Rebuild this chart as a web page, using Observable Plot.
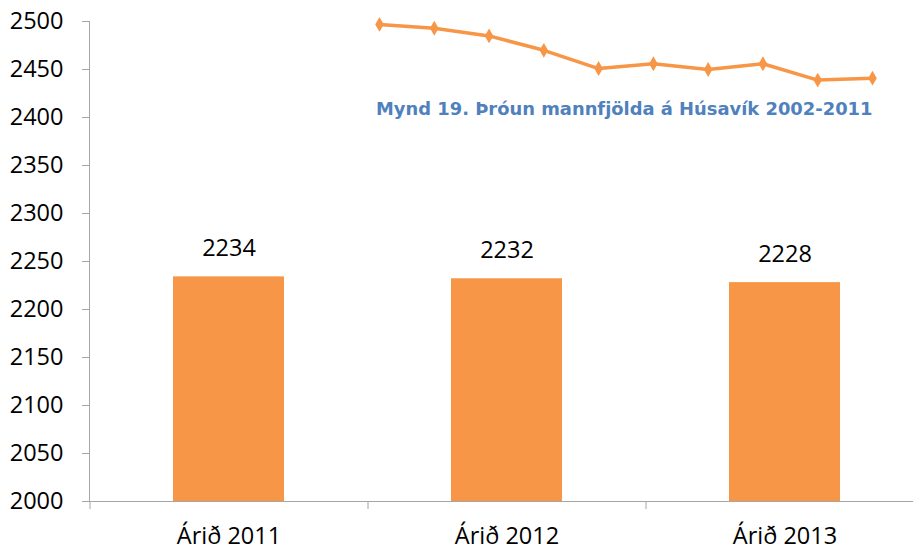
<!DOCTYPE html>
<html>
<head>
<meta charset="utf-8">
<script src="https://cdn.jsdelivr.net/npm/d3@7"></script>
<script src="https://cdn.jsdelivr.net/npm/@observablehq/plot@0.6"></script>
<style>
  html, body { margin: 0; padding: 0; background: #fff; }
  #wrap { position: relative; width: 913px; height: 552px; overflow: hidden; }
  #wrap svg { position: absolute; left: 0; top: 0; }
  #title { position: absolute; left: 376px; top: 98px; font-family: "DejaVu Sans", sans-serif; font-weight: 700; font-size: 17.9px; color: #4f81bd; white-space: nowrap; }
</style>
</head>
<body>
<div id="wrap"></div>
<script>
const categories = ["Árið 2011", "Árið 2012", "Árið 2013"];
const values = [2234, 2232, 2228];
const yTicks = [2000, 2050, 2100, 2150, 2200, 2250, 2300, 2350, 2400, 2450, 2500];
const insetYears = [2002, 2003, 2004, 2005, 2006, 2007, 2008, 2009, 2010, 2011];
const insetValues = [2497, 2493, 2485, 2470, 2451, 2456, 2450, 2456, 2439, 2441];
const insetTitle = "Mynd 19. Þróun mannfjölda á Húsavík 2002-2011";

const data = categories.map((c, i) => ({cat: c, value: values[i]}));
const inset = insetYears.map((y, i) => ({year: y, value: insetValues[i]}));

const orange = "#f79646";
const axisGray = "#a6a6a6";
const font = "Open Sans, sans-serif";
const fs = 23.5;

const main = Plot.plot({
  width: 913, height: 552,
  marginTop: 21, marginBottom: 51, marginLeft: 89, marginRight: 0,
  style: {fontFamily: font, fontSize: fs + "px", color: "#000", background: "transparent"},
  x: {domain: categories, range: [90, 924], paddingInner: 0.6, paddingOuter: 0.3, axis: null},
  y: {domain: [2000, 2500], axis: null},
  marks: [
    Plot.barY(data, {x: "cat", y1: 2000, y2: "value", fill: orange}),
    Plot.text(data, {x: "cat", y: "value", text: d => String(d.value), dy: -28, fontSize: fs, fill: "#000"}),
    Plot.frame({anchor: "left", stroke: axisGray, strokeOpacity: 1}),
    Plot.frame({anchor: "bottom", stroke: axisGray, strokeOpacity: 1}),
    Plot.axisY({ticks: yTicks, tickFormat: d => String(d), label: null, tickSize: 7, tickPadding: 19, stroke: axisGray, strokeOpacity: 1, fontSize: fs, fill: "#000"}),
    Plot.axisX({tickSize: 8, tickFormat: () => "", label: null, dx: -139, stroke: axisGray, strokeOpacity: 1}),
    Plot.axisX({tickSize: 0, tickPadding: 26, label: null, fontSize: fs, fill: "#000"})
  ]
});

const overlay = Plot.plot({
  width: 913, height: 552, margin: 0,
  style: {background: "transparent"},
  x: {domain: [2002, 2011], range: [379, 872], axis: null},
  y: {domain: [2000, 2500], range: [501, 21], axis: null},
  marks: [
    Plot.line(inset, {x: "year", y: "value", stroke: orange, strokeWidth: 3.5}),
    Plot.dot(inset, {x: "year", y: "value", symbol: "diamond", r: 4.5, fill: orange})
  ]
});

const wrap = document.getElementById("wrap");
wrap.appendChild(main);
wrap.appendChild(overlay);
const t = document.createElement("div");
t.id = "title";
t.textContent = insetTitle;
wrap.appendChild(t);
</script>
</body>
</html>
